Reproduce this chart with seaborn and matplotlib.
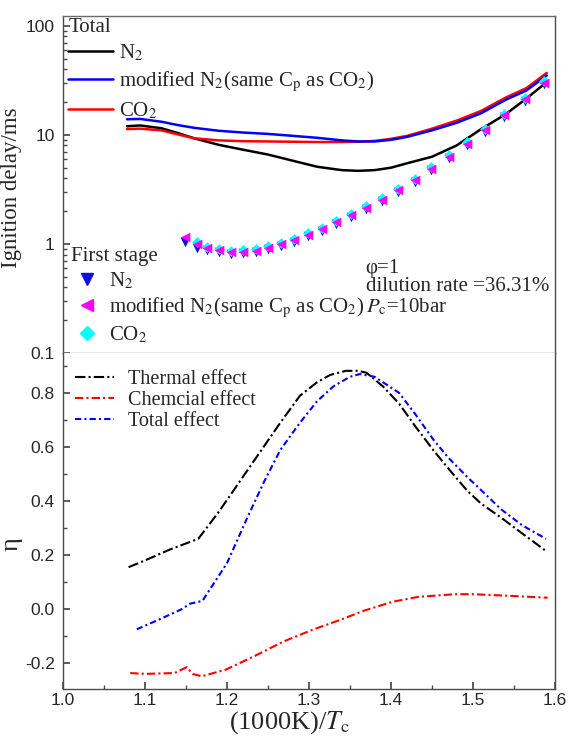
import matplotlib
matplotlib.use("Agg")
import matplotlib.pyplot as plt
from matplotlib.lines import Line2D
from matplotlib.ticker import FixedLocator, MultipleLocator, NullFormatter, LogLocator
import seaborn as sns

# ---- ignition delay, total (ms) ----
x_total = [1.078, 1.094, 1.12, 1.14, 1.16, 1.19, 1.22, 1.25, 1.28, 1.31, 1.34,
           1.36, 1.38, 1.40, 1.42, 1.45, 1.48, 1.51, 1.54, 1.565, 1.59]
tau_n2 = [12.0, 12.2, 11.5, 10.4, 9.3, 8.1, 7.3, 6.6, 5.8, 5.1, 4.75,
          4.68, 4.75, 5.0, 5.5, 6.3, 8.0, 11.3, 15.5, 21.5, 30.5]
tau_mod = [13.9, 14.0, 13.2, 12.3, 11.6, 10.9, 10.5, 10.2, 9.8, 9.4, 8.9,
           8.7, 8.7, 9.0, 9.6, 11.0, 12.9, 15.8, 21.0, 25.5, 35.0]
tau_co2 = [11.3, 11.4, 11.0, 10.1, 9.3, 8.9, 8.75, 8.7, 8.65, 8.6, 8.6,
           8.65, 8.8, 9.2, 9.8, 11.4, 13.5, 16.6, 22.0, 26.8, 37.0]

# ---- ignition delay, first stage (ms) ----
x_first = [1.149, 1.163, 1.176, 1.190, 1.205, 1.220, 1.235, 1.250, 1.266, 1.282,
           1.299, 1.316, 1.333, 1.351, 1.370, 1.389, 1.408, 1.429, 1.449, 1.471,
           1.493, 1.515, 1.538, 1.563, 1.587]
first_n2 = [1.05, 0.92, 0.875, 0.85, 0.81, 0.82, 0.84, 0.89, 0.965, 1.05,
            1.17, 1.31, 1.52, 1.76, 2.07, 2.46, 2.99, 3.72, 4.73, 6.1,
            8.0, 10.7, 14.7, 20.6, 29.0]
first_mod = [1.15, 1.00, 0.91, 0.88, 0.84, 0.85, 0.87, 0.92, 1.00, 1.09,
             1.21, 1.36, 1.58, 1.83, 2.15, 2.55, 3.10, 3.85, 4.90, 6.3,
             8.3, 11.1, 15.2, 21.3, 30.0]
x_first_co2 = x_first[1:]
first_co2 = [1.04, 0.94, 0.905, 0.865, 0.875, 0.895, 0.95, 1.03, 1.12,
             1.25, 1.40, 1.63, 1.88, 2.21, 2.63, 3.20, 3.97, 5.05, 6.5,
             8.55, 11.4, 15.7, 22.0, 31.0]

# ---- dilution effect ratios ----
x_thermal = [1.08, 1.10, 1.13, 1.165, 1.19, 1.215, 1.24, 1.265, 1.289, 1.31, 1.326,
             1.345, 1.36, 1.37, 1.39, 1.41, 1.43, 1.452, 1.47, 1.493, 1.51, 1.534,
             1.56, 1.589]
eta_thermal = [0.155, 0.18, 0.22, 0.26, 0.36, 0.47, 0.58, 0.69, 0.79, 0.84, 0.867,
               0.882, 0.882, 0.875, 0.825, 0.76, 0.675, 0.587, 0.52, 0.438, 0.39,
               0.339, 0.28, 0.215]
x_chem = [1.082, 1.10, 1.136, 1.151, 1.158, 1.169, 1.198, 1.233, 1.269, 1.304,
          1.34, 1.367, 1.402, 1.433, 1.478, 1.50, 1.544, 1.591]
eta_chem = [-0.237, -0.24, -0.237, -0.215, -0.24, -0.249, -0.225, -0.175, -0.12,
            -0.077, -0.038, -0.006, 0.027, 0.045, 0.055, 0.055, 0.049, 0.042]
x_eff = [1.09, 1.12, 1.145, 1.155, 1.17, 1.185, 1.20, 1.225, 1.245, 1.265, 1.289,
         1.31, 1.33, 1.35, 1.362, 1.38, 1.41, 1.43, 1.452, 1.47, 1.493, 1.51,
         1.534, 1.56, 1.589]
eta_total = [-0.075, -0.035, 0.0, 0.02, 0.03, 0.10, 0.17, 0.34, 0.47, 0.589, 0.69,
             0.77, 0.825, 0.86, 0.87, 0.86, 0.80, 0.72, 0.626, 0.56, 0.489, 0.44,
             0.37, 0.31, 0.26]

x_ticks = [1.0, 1.1, 1.2, 1.3, 1.4, 1.5, 1.6]
delay_ticks = [0.1, 1, 10, 100]
delay_ticklabels = ["0.1", "1", "10", "100"]
eta_ticks = [-0.2, 0.0, 0.2, 0.4, 0.6, 0.8]

sns.set_theme(style="ticks")
plt.rcParams["font.family"] = ["Liberation Sans", "DejaVu Sans"]
plt.rcParams["mathtext.fontset"] = "stix"

SERIF = ["Liberation Serif", "DejaVu Serif"]
BLUE = "#0000ff"
RED = "#ff0000"
SPINE = "#4a4a4a"
TICK_FS = 12.5

W, H = 568, 738
fig = plt.figure(figsize=(W / 100, H / 100), dpi=100)
left, right = 63 / W, 555 / W
ax1 = fig.add_axes([left, 1 - 353 / H, right - left, (353 - 16) / H])
ax2 = fig.add_axes([left, 1 - 689 / H, right - left, (689 - 353) / H])

# ---------------- upper panel: ignition delay ----------------
ax1.set_yscale("log")
lw = 1.8
sns.lineplot(x=x_total, y=tau_n2, ax=ax1, color="black", lw=lw, sort=False, estimator=None)
sns.lineplot(x=x_total, y=tau_co2, ax=ax1, color=RED, lw=lw, sort=False, estimator=None)
sns.lineplot(x=x_total, y=tau_mod, ax=ax1, color=BLUE, lw=lw, sort=False, estimator=None)

sns.scatterplot(x=x_first, y=first_n2, ax=ax1, marker="v", s=48, color="#1010d8",
                linewidth=0, zorder=3)
sns.scatterplot(x=x_first_co2, y=first_co2, ax=ax1, marker="D", s=30, color="#00ffff",
                linewidth=0, zorder=3)
sns.scatterplot(x=x_first, y=first_mod, ax=ax1, marker="<", s=48, color="#ff00ff",
                linewidth=0, zorder=4)

ax1.set_xlim(1.0, 1.6)
ax1.set_ylim(0.1, 123)
ax1.yaxis.set_major_locator(FixedLocator(delay_ticks))
ax1.set_yticklabels(delay_ticklabels)
ax1.yaxis.set_minor_locator(LogLocator(base=10, subs=range(2, 10)))
ax1.yaxis.set_minor_formatter(NullFormatter())
ax1.tick_params(axis="y", which="both", direction="in", left=True, right=False,
                labelsize=TICK_FS, pad=6, color=SPINE)
ax1.tick_params(axis="y", which="major", length=5)
ax1.tick_params(axis="y", which="minor", length=3)
ax1.tick_params(axis="x", which="both", bottom=False, labelbottom=False)
ax1.set_xlabel("")
ax1.set_ylabel("Ignition delay/ms", family=SERIF, fontsize=16.5)
ax1.yaxis.set_label_coords(-0.083, 0.49)

for name, sp in ax1.spines.items():
    sp.set_visible(True)
    sp.set_color(SPINE)
    sp.set_linewidth(1.0)
ax1.spines["bottom"].set_color("#8c8c8c")
ax1.spines["top"].set_color("#6a6a6a")

fs_leg = 15
h_total = [Line2D([], [], color="black", lw=lw),
           Line2D([], [], color=BLUE, lw=lw),
           Line2D([], [], color=RED, lw=lw)]
l_total = ["N$_2$", "modified N$_2$(same C$_\\mathrm{p}$ as CO$_2$)", "CO$_2$"]
leg1 = ax1.legend(h_total, l_total, title="Total", loc="upper left",
                  bbox_to_anchor=(0.0, 1.01), frameon=False, alignment="left",
                  prop={"family": SERIF, "size": fs_leg},
                  title_fontproperties={"family": SERIF, "size": fs_leg},
                  handlelength=2.15, handletextpad=0.3, labelspacing=0.3,
                  borderpad=0.1, borderaxespad=0.15)
ax1.add_artist(leg1)

h_first = [Line2D([], [], color="#1010d8", marker="v", ls="none", ms=8.5),
           Line2D([], [], color="#ff00ff", marker="<", ls="none", ms=8.5),
           Line2D([], [], color="#00ffff", marker="D", ls="none", ms=7)]
leg2 = ax1.legend(h_first, l_total, title="First stage", loc="lower left",
                  bbox_to_anchor=(0.005, 0.008), frameon=False, alignment="left",
                  prop={"family": SERIF, "size": fs_leg},
                  title_fontproperties={"family": SERIF, "size": fs_leg},
                  handlelength=1.6, handletextpad=0.25, labelspacing=0.22,
                  borderpad=0.1, borderaxespad=0.15)

for ypos, txt in [(0.252, "\u03c6=1"), (0.196, "dilution rate =36.31%"),
                  (0.137, "$P_\\mathrm{c}$=10bar")]:
    ax1.text(0.615, ypos, txt, transform=ax1.transAxes, family=SERIF,
             fontsize=15, va="center", ha="left")

# ---------------- lower panel: effect ratios ----------------
lw2 = 1.5
sns.lineplot(x=x_thermal, y=eta_thermal, ax=ax2, color="black", lw=lw2,
             sort=False, estimator=None).lines[-1].set_dashes((5, 1.5, 1, 1.5))
sns.lineplot(x=x_chem, y=eta_chem, ax=ax2, color=RED, lw=lw2,
             sort=False, estimator=None).lines[-1].set_dashes((4, 1.5, 1, 1.5))
sns.lineplot(x=x_eff, y=eta_total, ax=ax2, color=BLUE, lw=lw2,
             sort=False, estimator=None).lines[-1].set_dashes((3, 1.5, 1, 1.5))

ax2.set_xlim(1.0, 1.6)
ax2.set_ylim(-0.296, 0.948)
ax2.xaxis.set_major_locator(FixedLocator(x_ticks))
ax2.set_xticklabels([f"{v:.1f}" for v in x_ticks])
ax2.xaxis.set_minor_locator(MultipleLocator(0.05))
ax2.yaxis.set_major_locator(FixedLocator(eta_ticks))
ax2.set_yticklabels([f"{v:.1f}" for v in eta_ticks])
ax2.yaxis.set_minor_locator(MultipleLocator(0.1))
ax2.tick_params(axis="both", which="both", direction="in", top=False, right=False,
                labelsize=TICK_FS, color=SPINE)
ax2.tick_params(axis="both", which="major", length=5)
ax2.tick_params(axis="both", which="minor", length=3)
ax2.tick_params(axis="y", pad=6)
ax2.tick_params(axis="x", pad=3)
for name, sp in ax2.spines.items():
    sp.set_visible(True)
    sp.set_color(SPINE)
    sp.set_linewidth(1.0)
ax2.spines["top"].set_visible(False)

ax2.set_xlabel("(1000K)/$T_\\mathrm{c}$", family=SERIF, fontsize=19)
ax2.xaxis.set_label_coords(0.46, -0.06)
ax2.set_ylabel("\u03b7", family=SERIF, fontsize=19)
ax2.yaxis.set_label_coords(-0.083, 0.43)

h_eff = [Line2D([], [], color="black", lw=lw2, dashes=(5, 1.5, 1, 1.5)),
         Line2D([], [], color=RED, lw=lw2, dashes=(4, 1.5, 1, 1.5)),
         Line2D([], [], color=BLUE, lw=lw2, dashes=(3, 1.5, 1, 1.5))]
ax2.legend(h_eff, ["Thermal effect", "Chemcial effect", "Total effect"],
           loc="upper left", bbox_to_anchor=(0.0, 0.985), frameon=False,
           prop={"family": SERIF, "size": 14.5},
           handlelength=1.95, handletextpad=0.7, labelspacing=0.08,
           borderpad=0.5, borderaxespad=0.1)

fig.savefig("out.png", dpi=100)
